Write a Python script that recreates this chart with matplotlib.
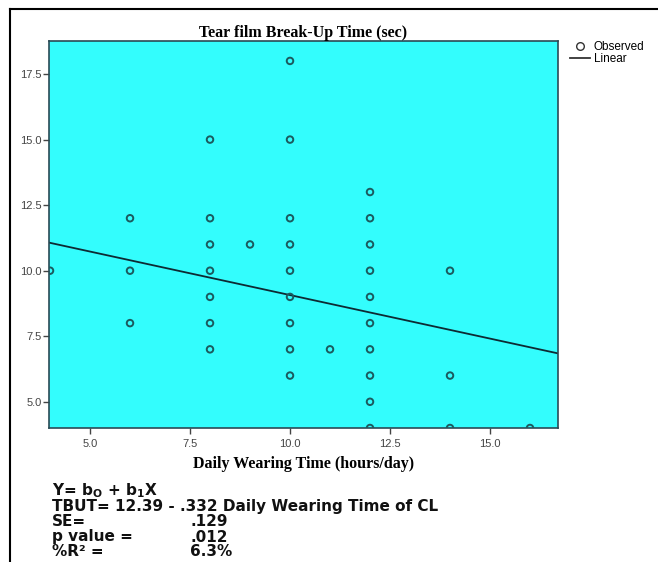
import matplotlib
matplotlib.use("Agg")
import matplotlib.pyplot as plt
import numpy as np
from matplotlib.lines import Line2D

# Data
wear_hours = [4, 6, 6, 6,
              8, 8, 8, 8, 8, 8, 8,
              9,
              10, 10, 10, 10, 10, 10, 10, 10, 10,
              11,
              12, 12, 12, 12, 12, 12, 12, 12, 12, 12,
              14, 14, 14,
              16]
tbut_sec = [10, 12, 10, 8,
            15, 12, 11, 10, 9, 8, 7,
            11,
            18, 15, 12, 11, 10, 9, 8, 7, 6,
            7,
            13, 12, 11, 10, 9, 8, 7, 6, 5, 4,
            10, 6, 4,
            4]
b0 = 12.39
b1 = -0.332
x_ticks = [5.0, 7.5, 10.0, 12.5, 15.0]
y_ticks = [5.0, 7.5, 10.0, 12.5, 15.0, 17.5]

W, H = 658, 562
fig = plt.figure(figsize=(W / 100, H / 100), dpi=100)
fig.patch.set_facecolor("white")

# Outer frame lines (top and left)
fig.add_artist(Line2D([10 / W, 1], [1 - 9 / H, 1 - 9 / H], color="black", lw=1.5))
fig.add_artist(Line2D([10 / W, 10 / W], [0, 1 - 9 / H], color="black", lw=1.5))

left, right, top, bottom = 49, 558, 41, 428
ax = fig.add_axes([left / W, 1 - bottom / H, (right - left) / W, (bottom - top) / H])
ax.set_facecolor("#33fdfd")
ax.set_xlim(3.975, 16.7)
ax.set_ylim(4.0, 18.76)

ax.scatter(wear_hours, tbut_sec, s=22, facecolors="none", edgecolors="#1b5a5e",
           linewidths=1.4, zorder=3, clip_on=True)
xl = np.array(ax.get_xlim())
ax.plot(xl, b0 + b1 * xl, color="#0d2a33", lw=1.3, zorder=2)

for sp in ax.spines.values():
    sp.set_color("#2a4a55")
    sp.set_linewidth(1.2)

ax.set_xticks(x_ticks)
ax.set_yticks(y_ticks)
ax.set_xticklabels([f"{v:.1f}" for v in x_ticks])
ax.set_yticklabels([f"{v:.1f}" for v in y_ticks])
ax.tick_params(axis="both", labelsize=8, colors="#444444", length=4, width=1,
               labelfontfamily="Liberation Sans")
ax.tick_params(axis="x", pad=4)
ax.tick_params(axis="y", pad=1)

ax.set_title("Tear film Break-Up Time (sec)", fontfamily="Liberation Serif",
             fontweight="bold", fontsize=11.5, pad=3)
ax.set_xlabel("Daily Wearing Time (hours/day)", fontfamily="Liberation Serif",
              fontweight="bold", fontsize=11.5, labelpad=5)

# Legend
handles = [Line2D([], [], marker="o", ls="none", mfc="none", mec="#333333", ms=5.5, mew=1),
           Line2D([], [], color="#333333", lw=1.3)]
leg = fig.legend(handles, ["Observed", "Linear"], loc="upper left",
                 bbox_to_anchor=(570 / W, 1 - 41 / H), frameon=False,
                 prop={"family": "Liberation Sans", "size": 8.5},
                 handlelength=1.7, handletextpad=0.3, labelspacing=0.0,
                 borderaxespad=0, borderpad=0)

# Regression summary text
fs = 11
fam = "DejaVu Sans"
lines = [
    (r"Y= b$_{\mathregular{O}}$ + b$_{\mathregular{1}}$X", None, 491),
    ("TBUT= 12.39 - .332 Daily Wearing Time of CL", None, 507),
    ("SE=", ".129", 522),
    ("p value =", ".012", 537),
    ("%R\u00b2 =", "6.3%", 552),
]
for lab, val, y in lines:
    fig.text(52 / W, 1 - y / H, lab, fontsize=fs, fontweight="bold", family=fam,
             va="center", ha="left", color="#111111")
    if val:
        fig.text(190 / W, 1 - y / H, val, fontsize=fs, fontweight="bold", family=fam,
                 va="center", ha="left", color="#111111")

fig.savefig("out.png", dpi=100, facecolor="white")
